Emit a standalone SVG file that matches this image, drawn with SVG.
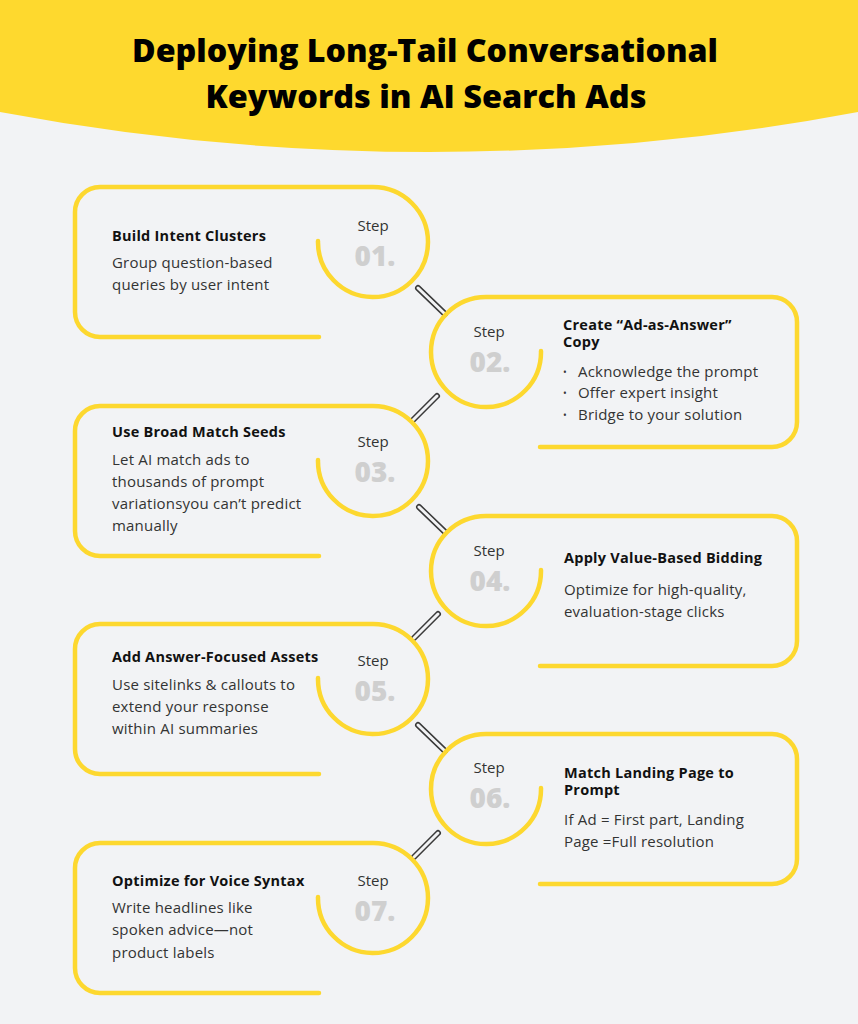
<svg xmlns="http://www.w3.org/2000/svg" width="858" height="1024" viewBox="0 0 858 1024">
  <style>
    .card { fill: none; stroke: #FDD82F; stroke-width: 4.5; stroke-linecap: round; stroke-linejoin: round; }
    .ttl { font-family: "Open Sans", "Liberation Sans", sans-serif; font-weight: 700; font-size: 14.5px; letter-spacing: 0.25px; fill: #111; }
    .txt { font-family: "Open Sans", "Liberation Sans", sans-serif; font-size: 15px; letter-spacing: 0.2px; fill: #333; }
    .step { font-family: "Open Sans", "Liberation Sans", sans-serif; font-size: 15px; fill: #333; text-anchor: middle; }
    .num { font-family: "Open Sans", "Liberation Sans", sans-serif; font-weight: 800; font-size: 28px; fill: #CFCFCF; text-anchor: middle; }
    .bul { font-family: "Open Sans", "Liberation Sans", sans-serif; font-size: 10px; fill: #333; }
    .head { font-family: "Open Sans", "Liberation Sans", sans-serif; font-weight: 800; font-size: 31px; fill: #000; text-anchor: middle; }
    .conOut { stroke: #3a3a3a; stroke-width: 6; stroke-linecap: round; fill: none; }
    .conIn { stroke: #F2F3F5; stroke-width: 3; stroke-linecap: round; fill: none; }
  </style>
  <rect x="0" y="0" width="858" height="1024" fill="#F2F3F5"/>
  <g id="header">
    <path d="M0,0 H858 V112 A2320,2320 0 0 1 0,112 Z" fill="#FED92E"/>
    <text class="head" x="425" y="62" textLength="586" lengthAdjust="spacingAndGlyphs">Deploying Long-Tail Conversational</text>
    <text class="head" x="426" y="108" textLength="441" lengthAdjust="spacingAndGlyphs">Keywords in AI Search Ads</text>
  </g>

  <g id="connectors">
    <line class="conOut" x1="418" y1="288" x2="445" y2="314"/>
    <line class="conIn" x1="418" y1="288" x2="445" y2="314"/>
    <line class="conOut" x1="437" y1="396" x2="413" y2="420"/>
    <line class="conIn" x1="437" y1="396" x2="413" y2="420"/>
    <line class="conOut" x1="419" y1="507" x2="445" y2="532"/>
    <line class="conIn" x1="419" y1="507" x2="445" y2="532"/>
    <line class="conOut" x1="438" y1="614" x2="414" y2="638"/>
    <line class="conIn" x1="438" y1="614" x2="414" y2="638"/>
    <line class="conOut" x1="418" y1="725" x2="445" y2="751"/>
    <line class="conIn" x1="418" y1="725" x2="445" y2="751"/>
    <line class="conOut" x1="438" y1="833" x2="414" y2="857"/>
    <line class="conIn" x1="438" y1="833" x2="414" y2="857"/>
  </g>

  <g id="step01">
    <path class="card" d="M319,337 H100 A25,25 0 0 1 75,312 V212 A25,25 0 0 1 100,187 H373 A55,55 0 1 1 318,241"/>
    <text class="step" x="373" y="231">Step</text>
    <text class="num" x="375" y="266">01.</text>
    <text class="ttl" x="112" y="241">Build Intent Clusters</text>
    <text class="txt" x="112" y="268">Group question-based</text>
    <text class="txt" x="112" y="290">queries by user intent</text>
  </g>

  <g id="step02">
    <path class="card" d="M541,351 A55,55 0 1 1 486,297 H772 A25,25 0 0 1 797,322 V422 A25,25 0 0 1 772,447 H540"/>
    <text class="step" x="489" y="337">Step</text>
    <text class="num" x="490" y="372">02.</text>
    <text class="ttl" x="563" y="330">Create “Ad-as-Answer”</text>
    <text class="ttl" x="563" y="347">Copy</text>
    <text class="bul" x="563" y="376">•</text>
    <text class="txt" x="578" y="377">Acknowledge the prompt</text>
    <text class="bul" x="563" y="397">•</text>
    <text class="txt" x="578" y="398">Offer expert insight</text>
    <text class="bul" x="563" y="419">•</text>
    <text class="txt" x="578" y="420">Bridge to your solution</text>
  </g>

  <g id="step03">
    <path class="card" d="M319,556 H100 A25,25 0 0 1 75,531 V431 A25,25 0 0 1 100,406 H373 A55,55 0 1 1 318,460"/>
    <text class="step" x="373" y="447">Step</text>
    <text class="num" x="375" y="482">03.</text>
    <text class="ttl" x="112" y="437">Use Broad Match Seeds</text>
    <text class="txt" x="112" y="465">Let AI match ads to</text>
    <text class="txt" x="112" y="487">thousands of prompt</text>
    <text class="txt" x="112" y="509">variationsyou can’t predict</text>
    <text class="txt" x="112" y="531">manually</text>
  </g>

  <g id="step04">
    <path class="card" d="M541,570 A55,55 0 1 1 486,516 H772 A25,25 0 0 1 797,541 V641 A25,25 0 0 1 772,666 H540"/>
    <text class="step" x="489" y="556">Step</text>
    <text class="num" x="490" y="591">04.</text>
    <text class="ttl" x="564" y="563">Apply Value-Based Bidding</text>
    <text class="txt" x="564" y="595">Optimize for high-quality,</text>
    <text class="txt" x="564" y="617">evaluation-stage clicks</text>
  </g>

  <g id="step05">
    <path class="card" d="M319,774 H100 A25,25 0 0 1 75,749 V649 A25,25 0 0 1 100,624 H373 A55,55 0 1 1 318,678"/>
    <text class="step" x="373" y="666">Step</text>
    <text class="num" x="375" y="701">05.</text>
    <text class="ttl" x="112" y="662">Add Answer-Focused Assets</text>
    <text class="txt" x="112" y="690">Use sitelinks &amp; callouts to</text>
    <text class="txt" x="112" y="712">extend your response</text>
    <text class="txt" x="112" y="734">within AI summaries</text>
  </g>

  <g id="step06">
    <path class="card" d="M541,788 A55,55 0 1 1 486,734 H772 A25,25 0 0 1 797,759 V859 A25,25 0 0 1 772,884 H540"/>
    <text class="step" x="489" y="773">Step</text>
    <text class="num" x="490" y="808">06.</text>
    <text class="ttl" x="564" y="778">Match Landing Page to</text>
    <text class="ttl" x="564" y="795">Prompt</text>
    <text class="txt" x="564" y="825">If Ad = First part, Landing</text>
    <text class="txt" x="564" y="847">Page =Full resolution</text>
  </g>

  <g id="step07">
    <path class="card" d="M319,993 H100 A25,25 0 0 1 75,968 V868 A25,25 0 0 1 100,843 H373 A55,55 0 1 1 318,897"/>
    <text class="step" x="373" y="886">Step</text>
    <text class="num" x="375" y="921">07.</text>
    <text class="ttl" x="112" y="886">Optimize for Voice Syntax</text>
    <text class="txt" x="112" y="913">Write headlines like</text>
    <text class="txt" x="112" y="935">spoken advice—not</text>
    <text class="txt" x="112" y="958">product labels</text>
  </g>
</svg>
